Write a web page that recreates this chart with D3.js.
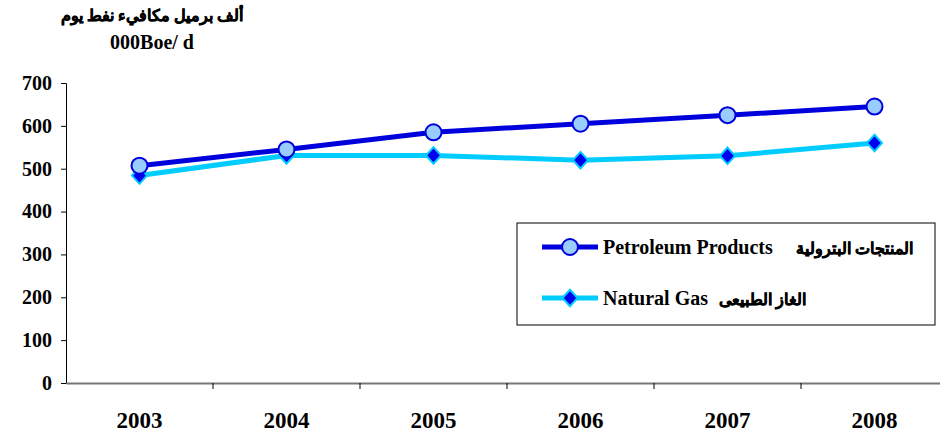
<!DOCTYPE html>
<html>
<head>
<meta charset="utf-8">
<script src="https://cdn.jsdelivr.net/npm/d3@7"></script>
<style>
body { margin: 0; background: #fff; }
text { font-family: "Times New Roman", "Liberation Serif", "DejaVu Serif", serif; font-weight: bold; fill: #000; }
text.ar { stroke: #000; stroke-width: 0.45px; }
</style>
</head>
<body>
<div id="chart"></div>
<script>
var years = ["2003", "2004", "2005", "2006", "2007", "2008"];
var petroleum = [507, 545, 585, 605, 625, 645];
var naturalGas = [484, 531, 531, 520, 530, 560];
var yTicks = [0, 100, 200, 300, 400, 500, 600, 700];

var fullWidth = 940, fullHeight = 438;
var margin = { left: 66, top: 83, right: -8, bottom: 55 };
var width = fullWidth - margin.left - margin.right;
var height = fullHeight - margin.top - margin.bottom;
var serif = "'Times New Roman', 'Liberation Serif', serif";

var svg = d3.select("#chart").append("svg")
    .attr("width", fullWidth).attr("height", fullHeight);

// title
svg.append("text").attr("class", "ar").attr("x", 152).attr("y", 21).attr("text-anchor", "middle")
    .attr("font-size", 16).attr("direction", "rtl").text("ألف برميل مكافيء نفط يوم");
svg.append("text").attr("x", 152).attr("y", 49).attr("text-anchor", "middle")
    .attr("font-size", 20).text("000Boe/ d");

var g = svg.append("g").attr("transform", "translate(" + margin.left + "," + margin.top + ")");

var x = d3.scaleBand().domain(years).range([0, width]);
var y = d3.scaleLinear().domain([0, 700]).range([height, 0]);

// y axis
var yAxis = g.append("g").call(d3.axisLeft(y).tickValues(yTicks).tickSize(5).tickPadding(9));
yAxis.select(".domain").attr("stroke", "#000");
yAxis.selectAll("text").attr("font-size", 20).attr("font-family", serif).attr("font-weight", "bold").attr("fill", "#000");

// x axis
var xAxis = g.append("g").attr("transform", "translate(0," + height + ")")
    .call(d3.axisBottom(x).tickSize(0).tickPadding(29));
xAxis.select(".domain").attr("stroke", "#777").attr("stroke-width", 2);
xAxis.selectAll("text").attr("font-size", 23).attr("font-family", serif).attr("font-weight", "bold").attr("fill", "#000");
// ticks between categories
g.append("g").selectAll("line").data(years).enter().append("line")
    .attr("x1", function (d, i) { return x.step() * (i + 1); })
    .attr("x2", function (d, i) { return x.step() * (i + 1); })
    .attr("y1", height).attr("y2", height + 6).attr("stroke", "#000");

var cx = function (d, i) { return x(years[i]) + x.bandwidth() / 2; };

var line = d3.line().x(cx).y(function (d) { return y(d); });

// natural gas
g.append("path").datum(naturalGas).attr("d", line)
    .attr("fill", "none").attr("stroke", "#00CCFF").attr("stroke-width", 5);
// petroleum
g.append("path").datum(petroleum).attr("d", line)
    .attr("fill", "none").attr("stroke", "#0000DD").attr("stroke-width", 5);

// diamond a bit wider than d3's default one
var diamondType = {
    draw: function (context, size) {
        var h = Math.sqrt(size) / 2;
        context.moveTo(0, -h * 1.1);
        context.lineTo(h, 0);
        context.lineTo(0, h * 1.1);
        context.lineTo(-h, 0);
        context.closePath();
    }
};
var diamond = d3.symbol().type(diamondType).size(225);

g.selectAll(".gas").data(naturalGas).enter().append("path").attr("class", "gas")
    .attr("transform", function (d, i) { return "translate(" + cx(d, i) + "," + y(d) + ")"; })
    .attr("d", diamond).attr("fill", "#0000EE").attr("stroke", "#00CCFF").attr("stroke-width", 2);

g.selectAll(".pet").data(petroleum).enter().append("circle").attr("class", "pet")
    .attr("cx", cx).attr("cy", function (d) { return y(d); }).attr("r", 8)
    .attr("fill", "#99CCFF").attr("stroke", "#0000DD").attr("stroke-width", 2);

// legend
var leg = svg.append("g");
leg.append("rect").attr("x", 517).attr("y", 223).attr("width", 418).attr("height", 102)
    .attr("fill", "#fff").attr("stroke", "#000").attr("stroke-width", 1);

leg.append("line").attr("x1", 542).attr("x2", 598).attr("y1", 247).attr("y2", 247)
    .attr("stroke", "#0000DD").attr("stroke-width", 5);
leg.append("circle").attr("cx", 570).attr("cy", 247).attr("r", 8)
    .attr("fill", "#99CCFF").attr("stroke", "#0000DD").attr("stroke-width", 2);
leg.append("text").attr("x", 603).attr("y", 254).attr("font-size", 20).text("Petroleum Products");
leg.append("text").attr("class", "ar").attr("x", 913).attr("y", 254).attr("font-size", 16).attr("text-anchor", "start")
    .attr("direction", "rtl").text("المنتجات البترولية");

leg.append("line").attr("x1", 542).attr("x2", 598).attr("y1", 298).attr("y2", 298)
    .attr("stroke", "#00CCFF").attr("stroke-width", 5);
leg.append("path").attr("transform", "translate(570,298)").attr("d", diamond)
    .attr("fill", "#0000EE").attr("stroke", "#00CCFF").attr("stroke-width", 2);
leg.append("text").attr("x", 603).attr("y", 305).attr("font-size", 20).text("Natural Gas");
leg.append("text").attr("class", "ar").attr("x", 806).attr("y", 305).attr("font-size", 16).attr("text-anchor", "start")
    .attr("direction", "rtl").text("الغاز الطبيعى");
</script>
</body>
</html>
